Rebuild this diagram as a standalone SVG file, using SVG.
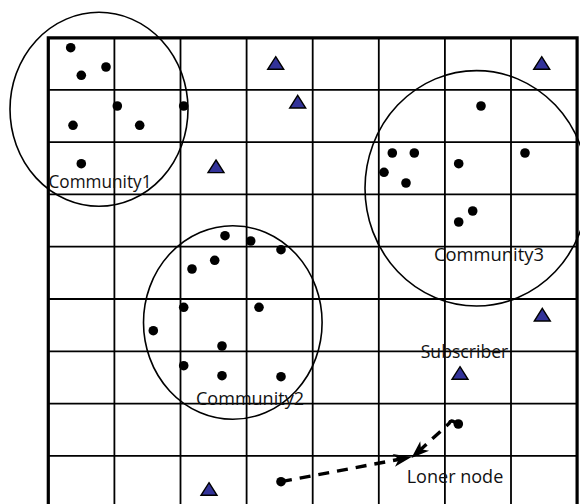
<svg xmlns="http://www.w3.org/2000/svg" width="580" height="504" viewBox="0 0 580 504">
<defs>
<style>
.g{stroke:#000;stroke-width:1.8;fill:none}
.b{stroke:#000;stroke-width:3.2;fill:none}
.c{stroke:#000;stroke-width:1.6;fill:none}
.d{fill:#000}
.t{fill:#333399;stroke:#000;stroke-width:1.4;stroke-linejoin:miter}
.lbl{font-family:"Open Sans","Noto Sans",sans-serif;font-size:17.5px;fill:#111}
.ar{stroke:#000;stroke-width:3.4;fill:none;stroke-dasharray:11 8;marker-end:url(#ah)}
</style>
<marker id="ah" viewBox="-20 -8 22 16" refX="-8" refY="0" markerWidth="22" markerHeight="16" markerUnits="userSpaceOnUse" orient="auto">
<path d="M0,0 L-18,-6.5 L-13,0 L-18,6.5 Z" fill="#000"/>
</marker>
<polygon id="tri" points="0,-6.3 8,6.3 -8,6.3"/>
</defs>
<rect width="580" height="504" fill="#fff"/>
<g id="grid">
<path class="g" d="M114.4,37.5V504M180.5,37.5V504M246.6,37.5V504M312.7,37.5V504M378.8,37.5V504M444.9,37.5V504M511,37.5V504"/>
<path class="g" d="M48,89.8H577M48,142.1H577M48,194.4H577M48,246.7H577M48,299H577M48,351.3H577M48,403.6H577M48,455.9H577"/>
<path class="b" d="M48.3,504V37.8H577.1V504"/>
</g>
<g id="community1">
<ellipse class="c" cx="99" cy="109.3" rx="89" ry="97"/>
<text class="lbl" x="48.5" y="188" textLength="103" lengthAdjust="spacingAndGlyphs">Community1</text>
</g>
<g id="community2">
<ellipse class="c" cx="232.8" cy="322.5" rx="89.3" ry="96.8"/>
<text class="lbl" x="196" y="404.5" textLength="108" lengthAdjust="spacingAndGlyphs">Community2</text>
</g>
<g id="community3">
<ellipse class="c" cx="476.5" cy="188.3" rx="111.5" ry="117.7"/>
<text class="lbl" x="434" y="260.5" textLength="110" lengthAdjust="spacingAndGlyphs">Community3</text>
</g>
<g id="nodes">
<circle class="d" cx="70.7" cy="47.7" r="4.8"/>
<circle class="d" cx="106" cy="67" r="4.8"/>
<circle class="d" cx="81.3" cy="75.3" r="4.8"/>
<circle class="d" cx="117.3" cy="106" r="4.8"/>
<circle class="d" cx="183.7" cy="106" r="4.8"/>
<circle class="d" cx="73" cy="125.3" r="4.8"/>
<circle class="d" cx="139.7" cy="125.3" r="4.8"/>
<circle class="d" cx="81.3" cy="163.7" r="4.8"/>
<circle class="d" cx="481" cy="106" r="4.8"/>
<circle class="d" cx="392.3" cy="153" r="4.8"/>
<circle class="d" cx="414.3" cy="153" r="4.8"/>
<circle class="d" cx="525" cy="153" r="4.8"/>
<circle class="d" cx="458.7" cy="163.7" r="4.8"/>
<circle class="d" cx="384" cy="172.3" r="4.8"/>
<circle class="d" cx="406" cy="183" r="4.8"/>
<circle class="d" cx="472.7" cy="211" r="4.8"/>
<circle class="d" cx="458.7" cy="222" r="4.8"/>
<circle class="d" cx="225" cy="235.7" r="4.8"/>
<circle class="d" cx="250.7" cy="241" r="4.8"/>
<circle class="d" cx="281" cy="249.7" r="4.8"/>
<circle class="d" cx="214.7" cy="260.3" r="4.8"/>
<circle class="d" cx="192" cy="269" r="4.8"/>
<circle class="d" cx="183.7" cy="307.3" r="4.8"/>
<circle class="d" cx="259" cy="307.3" r="4.8"/>
<circle class="d" cx="153.3" cy="330.7" r="4.8"/>
<circle class="d" cx="222" cy="346" r="4.8"/>
<circle class="d" cx="183.7" cy="365.7" r="4.8"/>
<circle class="d" cx="222" cy="375.7" r="4.8"/>
<circle class="d" cx="281" cy="376.7" r="4.8"/>
<circle class="d" cx="281" cy="481.7" r="4.8"/>
<circle class="d" cx="458.3" cy="424" r="4.8"/>
</g>
<g id="subscribers">
<use href="#tri" class="t" x="275.7" y="63"/>
<use href="#tri" class="t" x="297.7" y="101.7"/>
<use href="#tri" class="t" x="216" y="166.3"/>
<use href="#tri" class="t" x="541.7" y="63"/>
<use href="#tri" class="t" x="542.3" y="314.7"/>
<use href="#tri" class="t" x="460" y="373"/>
<use href="#tri" class="t" x="209" y="489"/>
<text class="lbl" x="420.7" y="358" textLength="87.6" lengthAdjust="spacingAndGlyphs">Subscriber</text>
</g>
<g id="connectors">
<path class="ar" d="M281,481.7 L403.6,458.5"/>
<path class="ar" d="M455,422.5 Q451,419 449,423.5 L417.3,452.7"/>
</g>
<g id="loner">
<text class="lbl" x="406.7" y="483" textLength="96.6" lengthAdjust="spacingAndGlyphs">Loner node</text>
</g>
</svg>
